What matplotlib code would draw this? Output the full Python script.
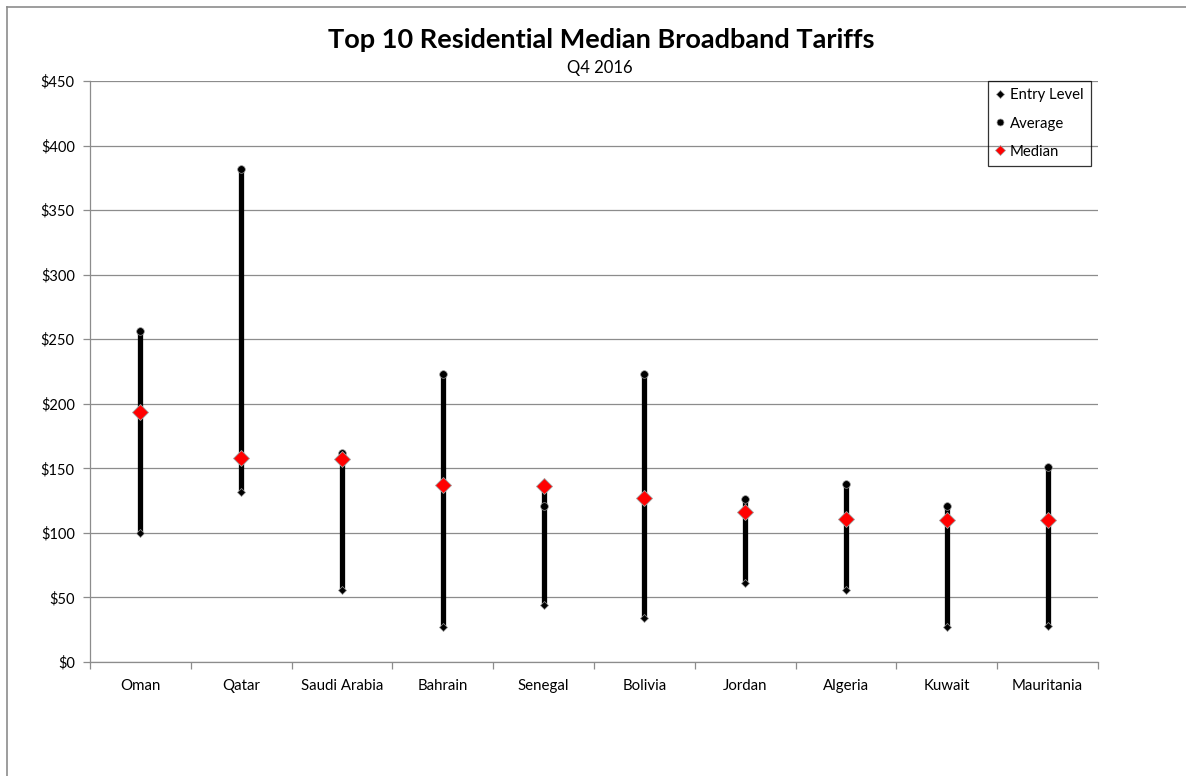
import matplotlib
matplotlib.use("Agg")
import matplotlib.pyplot as plt
from matplotlib.lines import Line2D
from matplotlib.ticker import FuncFormatter, FixedLocator
import numpy as np

plt.rcParams['font.family'] = ['Lato', 'DejaVu Sans']

countries = ["Oman", "Qatar", "Saudi Arabia", "Bahrain", "Senegal",
             "Bolivia", "Jordan", "Algeria", "Kuwait", "Mauritania"]
entry_level = [100, 132, 56, 27, 44, 34, 61, 56, 27, 28]
average = [256, 382, 162, 223, 121, 223, 126, 138, 121, 151]
median = [194, 158, 157, 137, 136, 127, 116, 111, 110, 110]

title = "Top 10 Residential Median Broadband Tariffs"
subtitle = "Q4 2016"

W, H = 1186, 776
fig = plt.figure(figsize=(W / 100, H / 100), dpi=100)
fig.patch.set_facecolor("white")

# chart frame (top and left edges visible)
fig.add_artist(Line2D([7 / W, 1.01], [1 - 7 / H, 1 - 7 / H], color="#8c8c8c", lw=1.2))
fig.add_artist(Line2D([7 / W, 7 / W], [-0.01, 1 - 7 / H], color="#8c8c8c", lw=1.2))

left, right, top, bottom = 90, 1098, 81, 662
ax = fig.add_axes([left / W, 1 - bottom / H, (right - left) / W, (bottom - top) / H])

x = np.arange(len(countries))
vals = np.vstack([entry_level, average, median])
lows = vals.min(axis=0)
highs = vals.max(axis=0)

ax.vlines(x, lows, highs, color="black", lw=3.8, zorder=3)
ax.plot(x, entry_level, ls="none", marker="D", ms=4.5, mfc="black",
        mec="#9a9a9a", mew=0.5, zorder=4)
ax.plot(x, average, ls="none", marker="o", ms=5.5, mfc="black",
        mec="#9a9a9a", mew=0.5, zorder=4)
ax.plot(x, median, ls="none", marker="D", ms=8, mfc="#ff0000",
        mec="#a0a0a0", mew=0.6, zorder=5)

ax.set_xlim(-0.5, len(countries) - 0.5)
ax.set_ylim(0, 450)
ax.set_yticks(np.arange(0, 451, 50))
ax.yaxis.set_major_formatter(FuncFormatter(lambda v, p: f"${v:,.0f}"))
ax.set_xticks(x)
ax.set_xticklabels(countries)
ax.xaxis.set_minor_locator(FixedLocator(np.arange(-0.5, len(countries), 1.0)))

ax.grid(axis="y", color="#8c8c8c", lw=0.9, zorder=0)
ax.set_axisbelow(True)
for s in ("top", "right"):
    ax.spines[s].set_visible(False)
for s in ("left", "bottom"):
    ax.spines[s].set_color("#8c8c8c")
    ax.spines[s].set_linewidth(0.9)

ax.tick_params(axis="y", which="major", length=5, color="#8c8c8c", width=0.9,
               labelsize=10.5, pad=6, labelcolor="black")
ax.tick_params(axis="x", which="major", length=0, labelsize=10.8, pad=12,
               labelcolor="black")
ax.tick_params(axis="x", which="minor", length=5, color="#8c8c8c", width=0.9)

fig.text(601 / W, 1 - 40 / H, title, ha="center", va="center",
         fontsize=19.5, fontweight="bold")
fig.text(600 / W, 1 - 68 / H, subtitle, ha="center", va="center", fontsize=12)

# compact legend keys
handles = [
    Line2D([], [], ls="none", marker="D", ms=4.5, mfc="black", mec="#9a9a9a", mew=0.5),
    Line2D([], [], ls="none", marker="o", ms=5, mfc="black", mec="#9a9a9a", mew=0.5),
    Line2D([], [], ls="none", marker="D", ms=5.5, mfc="#ff0000", mec="#a0a0a0", mew=0.5),
]
labels = ["Entry Level", "Average", "Median"]
leg = fig.legend(handles, labels, loc="upper right",
                 bbox_to_anchor=(1091 / W, 1 - 81 / H),
                 frameon=True, fancybox=False, edgecolor="black",
                 facecolor="none", fontsize=10.7, labelspacing=0.95,
                 handlelength=0.6, handletextpad=0.4, borderpad=0.5,
                 borderaxespad=0)
leg.get_frame().set_linewidth(0.9)

fig.savefig("out.png", dpi=100, facecolor="white")
